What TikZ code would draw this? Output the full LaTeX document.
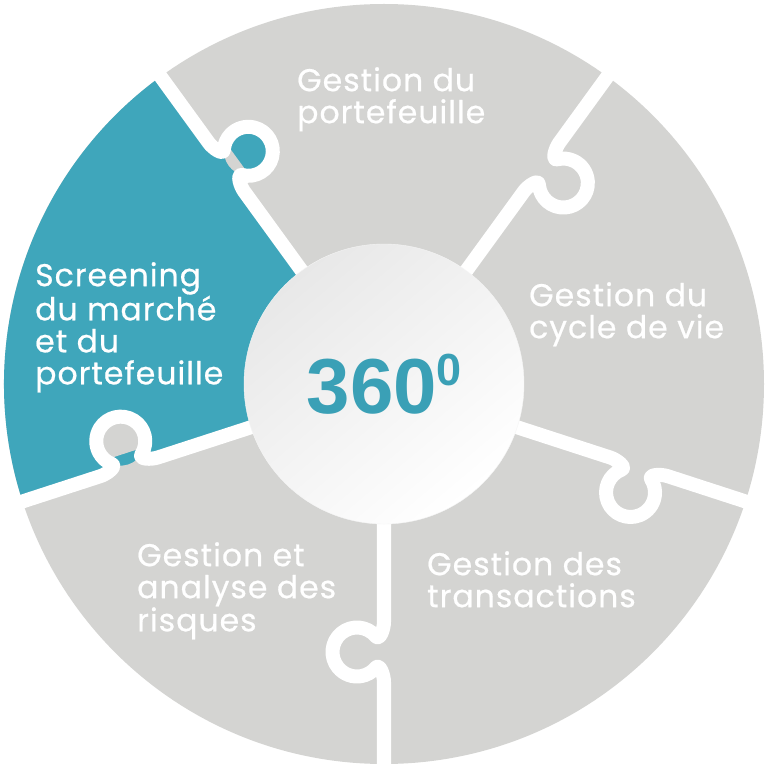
\documentclass[tikz,border=0pt]{standalone}
\usepackage{fontspec}
\usepackage{tikz}
\usetikzlibrary{positioning}
\newfontfamily\piecefont{Poppins}[LetterSpace=3.2, FakeBold=0.6]
\newfontfamily\hubfont{Liberation Sans}
\definecolor{tealpiece}{RGB}{63,166,187}
\definecolor{greypiece}{RGB}{212,212,210}
\definecolor{hubteal}{RGB}{58,160,182}

\begin{document}
\begin{tikzpicture}[x=1pt, y=1pt,
  seam/.style={white, line width=14, line join=round},
  piece/.style={anchor=north west, inner sep=0, align=left, text=white, font=\piecefont\fontsize{31.5}{32}\selectfont},
  hub/.style={circle, minimum size=280, inner sep=0, draw=black!4, top color=black!9, bottom color=white, shading angle=40, text=hubteal, font=\hubfont\bfseries\fontsize{78}{78}\selectfont}]
  \useasboundingbox (-384,-384) rectangle (384,384);
  % disc and highlighted piece
  \fill[greypiece] (0,0) circle (380);
  \fill[tealpiece] (0,0) -- (126:380) arc[start angle=126, end angle=198, radius=380] -- cycle;
  \fill[tealpiece, rotate=126] (268,-27) circle (24.5) (252,-14) rectangle (284,1);
  \fill[greypiece, rotate=198] (268,-27) circle (24.5) (252,-14) rectangle (284,1);
  % seams with knobs
  \foreach \a in {54,126,198,270,342} {
    \draw[seam, rotate=\a] (100,0) -- (238,0) to[out=0, in=40] (252.25,-8.23)
      arc[start angle=130, end angle=410, radius=24.5] to[out=140, in=180] (298,0) -- (382,0);
  }
  \node[hub] (hub) at (0,0) {360\kern-1pt\raisebox{28pt}{\fontsize{45}{45}\selectfont 0}};
  % labels
  \node[piece] (portfolio) at (-87,317) {Gestion du\\portefeuille};
  \node[piece] (lifecycle) at (145,102) {Gestion du\\cycle de vie};
  \node[piece] (transactions) at (43,-167) {Gestion des\\transactions};
  \node[piece] (risks) at (-247,-158) {Gestion et\\analyse des\\risques};
  \node[piece] (screening) at (-349,122) {Screening\\du marché\\et du\\portefeuille};
\end{tikzpicture}
\end{document}
